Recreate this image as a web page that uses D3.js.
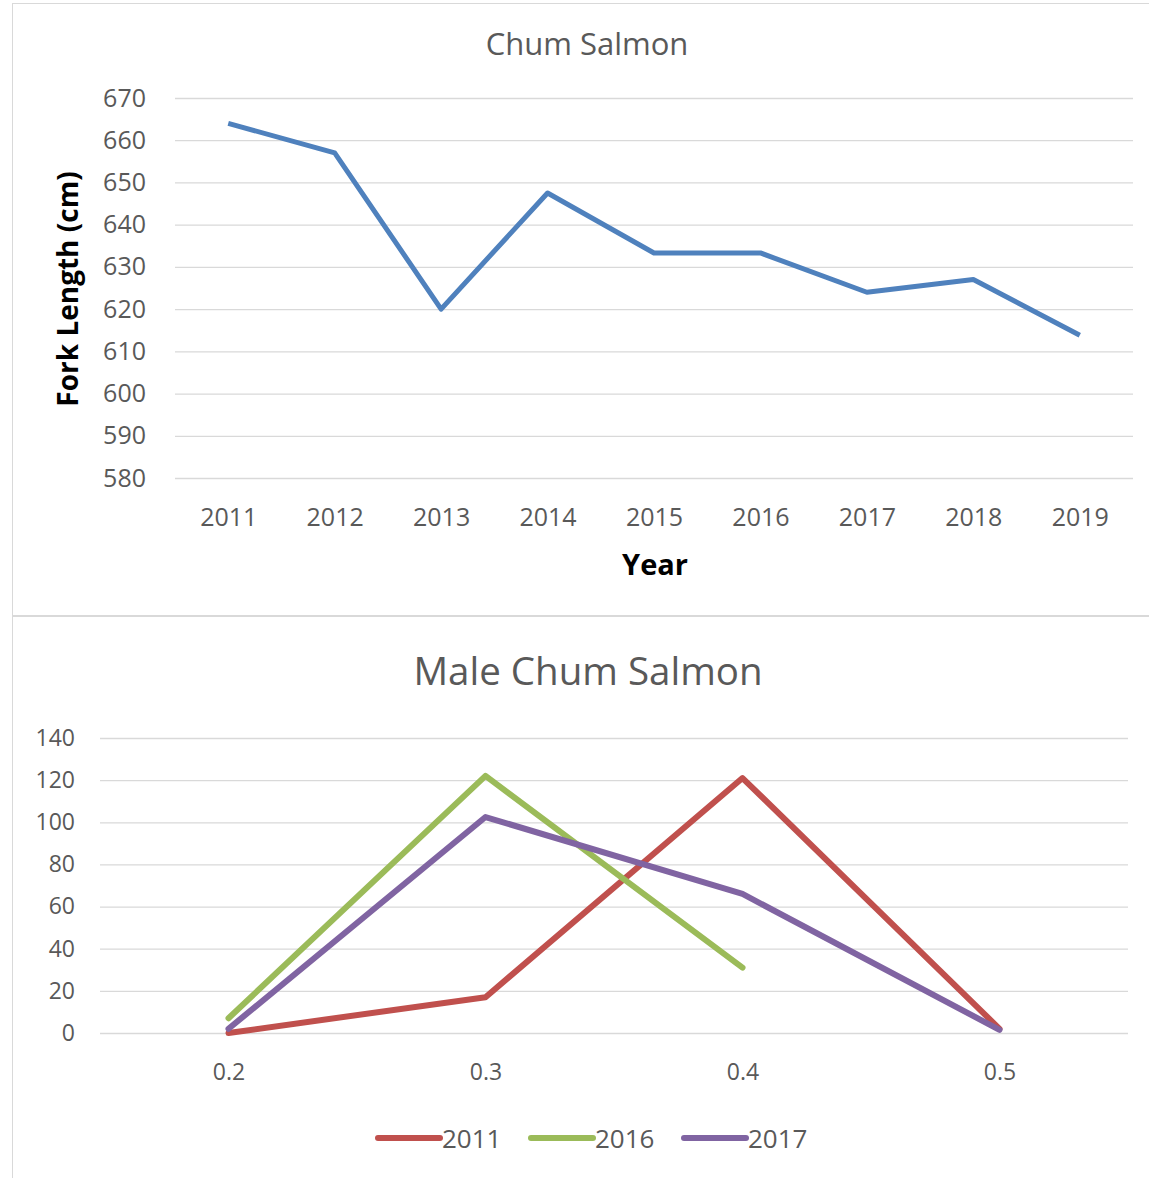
<!DOCTYPE html>
<html>
<head>
<meta charset="utf-8">
<script src="https://cdn.jsdelivr.net/npm/d3@7"></script>
<style>
  body { margin: 0; background: #fff; }
  text { font-family: "Open Sans", "Noto Sans", sans-serif; }
</style>
</head>
<body>
<script>
// top chart: mean fork length per year
var years = ["2011", "2012", "2013", "2014", "2015", "2016", "2017", "2018", "2019"];
var forkLength = [664, 657, 620, 647.5, 633.3, 633.3, 624, 627, 613.8];
var lengthTicks = [580, 590, 600, 610, 620, 630, 640, 650, 660, 670];

// bottom chart: male chum salmon by age class
var ageClasses = ["0.2", "0.3", "0.4", "0.5"];
var seriesNames = ["2011", "2016", "2017"];
var counts2011 = [0, 17, 121, 2];
var counts2016 = [7, 122, 31, null];
var counts2017 = [2, 102.5, 66, 1.5];
var countTicks = [0, 20, 40, 60, 80, 100, 120, 140];
var seriesColors = ["#C0504D", "#9BBB59", "#8064A2"];

var W = 1149, H = 1178;
var svg = d3.select("body").append("svg").attr("width", W).attr("height", H);

// panel frames
svg.append("rect").attr("x", 12.5).attr("y", 3.5).attr("width", 1150).attr("height", 612)
    .attr("fill", "none").attr("stroke", "#d9d9d9");
svg.append("rect").attr("x", 12.5).attr("y", 616.5).attr("width", 1150).attr("height", 600)
    .attr("fill", "none").attr("stroke", "#d9d9d9");

// ---------- top chart ----------
var x1 = d3.scalePoint().domain(years).range([175, 1133]).padding(0.5);
var y1 = d3.scaleLinear().domain([580, 670]).range([478, 98]);

var g1 = svg.append("g");
g1.append("g").attr("transform", "translate(175,0)")
    .call(d3.axisLeft(y1).tickValues(lengthTicks).tickSize(-958).tickPadding(0).tickFormat(d3.format("d")))
    .call(function(g) {
        g.select(".domain").remove();
        g.selectAll(".tick line").attr("stroke", "#d9d9d9").attr("stroke-width", 1.3);
        g.selectAll(".tick text").attr("x", -29).attr("fill", "#595959")
            .style("font-size", "25px").style("font-family", "'Open Sans', sans-serif");
    });
g1.append("g").attr("transform", "translate(0,478)")
    .call(d3.axisBottom(x1).tickSize(0).tickPadding(30))
    .call(function(g) {
        g.select(".domain").remove();
        g.selectAll(".tick text").attr("fill", "#595959")
            .style("font-size", "25px").style("font-family", "'Open Sans', sans-serif");
    });

g1.append("path")
    .datum(forkLength)
    .attr("fill", "none")
    .attr("stroke", "#4F81BD")
    .attr("stroke-width", 5)
    .attr("stroke-linejoin", "round")
    .attr("d", d3.line().x(function(d, i) { return x1(years[i]); }).y(function(d) { return y1(d); }));

g1.append("text").attr("x", 587).attr("y", 55).attr("text-anchor", "middle")
    .attr("fill", "#595959").style("font-size", "31px").text("Chum Salmon");
g1.append("text").attr("transform", "translate(78,289) rotate(-90)").attr("text-anchor", "middle")
    .attr("fill", "#000").style("font-size", "28px").style("font-weight", "bold").text("Fork Length (cm)");
g1.append("text").attr("x", 655).attr("y", 575).attr("text-anchor", "middle")
    .attr("fill", "#000").style("font-size", "29px").style("font-weight", "bold").text("Year");

// ---------- bottom chart ----------
var x2 = d3.scalePoint().domain(ageClasses).range([100, 1128]).padding(0.5);
var y2 = d3.scaleLinear().domain([0, 140]).range([1033, 738]);

var g2 = svg.append("g");
g2.append("g").attr("transform", "translate(100,0)")
    .call(d3.axisLeft(y2).tickValues(countTicks).tickSize(-1028).tickPadding(0))
    .call(function(g) {
        g.select(".domain").remove();
        g.selectAll(".tick line").attr("stroke", "#d9d9d9").attr("stroke-width", 1.3);
        g.selectAll(".tick text").attr("x", -25).attr("fill", "#595959")
            .style("font-size", "23px").style("font-family", "'Open Sans', sans-serif");
    });
g2.append("g").attr("transform", "translate(0,1033)")
    .call(d3.axisBottom(x2).tickSize(0).tickPadding(31))
    .call(function(g) {
        g.select(".domain").remove();
        g.selectAll(".tick text").attr("fill", "#595959")
            .style("font-size", "23px").style("font-family", "'Open Sans', sans-serif");
    });

var series = [counts2011, counts2016, counts2017];
var line2 = d3.line()
    .defined(function(d) { return d != null; })
    .x(function(d, i) { return x2(ageClasses[i]); })
    .y(function(d) { return y2(d); });

g2.selectAll("path.series")
    .data(series)
    .enter()
    .append("path")
    .attr("class", "series")
    .attr("fill", "none")
    .attr("stroke", function(d, i) { return seriesColors[i]; })
    .attr("stroke-width", 6)
    .attr("stroke-linejoin", "round")
    .attr("stroke-linecap", "round")
    .attr("d", line2);

g2.append("text").attr("x", 588).attr("y", 685).attr("text-anchor", "middle")
    .attr("fill", "#595959").style("font-size", "38.5px").text("Male Chum Salmon");

// legend
var legendX = [378, 531, 684];
var legend = g2.selectAll("g.legend")
    .data(seriesNames)
    .enter()
    .append("g")
    .attr("class", "legend")
    .attr("transform", function(d, i) { return "translate(" + legendX[i] + ",1138)"; });
legend.append("line").attr("x1", 0).attr("x2", 62).attr("y1", 0).attr("y2", 0)
    .attr("stroke", function(d, i) { return seriesColors[i]; })
    .attr("stroke-width", 6).attr("stroke-linecap", "round");
legend.append("text").attr("x", 64).attr("y", 9.5)
    .attr("fill", "#595959").style("font-size", "26px").text(function(d) { return d; });
</script>
</body>
</html>
